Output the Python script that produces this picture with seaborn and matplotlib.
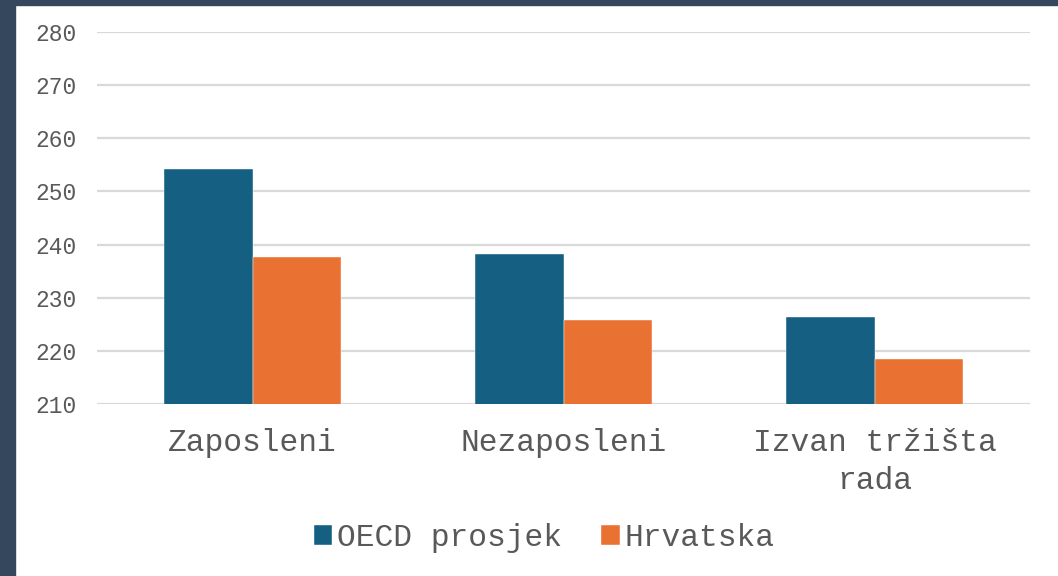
import matplotlib
matplotlib.use("Agg")
import matplotlib.pyplot as plt
from matplotlib.patches import Rectangle
import seaborn as sns
import pandas as pd

categories = ["Zaposleni", "Nezaposleni", "Izvan tržišta\nrada"]
series_names = ["OECD prosjek", "Hrvatska"]
oecd_values = [254.2, 238.3, 226.4]
hrv_values = [237.6, 225.8, 218.4]
y_ticks = [210, 220, 230, 240, 250, 260, 270, 280]

df = pd.DataFrame({
    "kategorija": categories * 2,
    "serija": [series_names[0]] * 3 + [series_names[1]] * 3,
    "vrijednost": oecd_values + hrv_values,
})

sns.set_style("white")
plt.rcParams["font.family"] = ["Liberation Mono", "DejaVu Sans Mono"]

W, H = 1058, 576
fig = plt.figure(figsize=(W / 100, H / 100), dpi=100)
fig.patch.set_facecolor("white")
border = "#34475c"
fig.patches.append(Rectangle((0, 0), 15 / W, 1, transform=fig.transFigure,
                             color=border, zorder=0))
fig.patches.append(Rectangle((0, 1 - 5 / H), 1, 5 / H, transform=fig.transFigure,
                             color=border, zorder=0))

ax = fig.add_axes([97 / W, 1 - 404 / H, (1030 - 97) / W, (404 - 32) / H])
ax.set_facecolor("none")

sns.barplot(data=df, x="kategorija", y="vrijednost", hue="serija",
            palette=["#156082", "#E97132"], saturation=1, width=0.57, ax=ax,
            edgecolor="#ffffff", linewidth=0.3, zorder=3)

ax.set_ylim(210, 280)
ax.set_xlim(-0.5, 2.5)
ax.set_yticks(y_ticks)
ax.yaxis.grid(True, color="#d9d9d9", linewidth=1.6, zorder=0)
ax.set_axisbelow(True)
for s in ax.spines.values():
    s.set_visible(False)
ax.tick_params(axis="y", length=0, pad=15, labelsize=16.5, labelcolor="#595959")
ax.tick_params(axis="x", length=0, pad=17, labelsize=22.5, labelcolor="#595959")
ax.set_xlabel("")
ax.set_ylabel("")
for lbl in ax.get_xticklabels():
    lbl.set_multialignment("center")
    lbl.set_linespacing(1.35)

handles, labels = ax.get_legend_handles_labels()
ax.get_legend().remove()
fig.legend(handles, labels, loc="center", bbox_to_anchor=(544 / W, 1 - 538 / H),
           ncol=2, frameon=False, fontsize=22.5, labelcolor="#595959",
           handlelength=0.6, handleheight=0.6, handletextpad=0.15,
           columnspacing=1.25)

fig.savefig("out.png", dpi=100, facecolor=fig.get_facecolor())
